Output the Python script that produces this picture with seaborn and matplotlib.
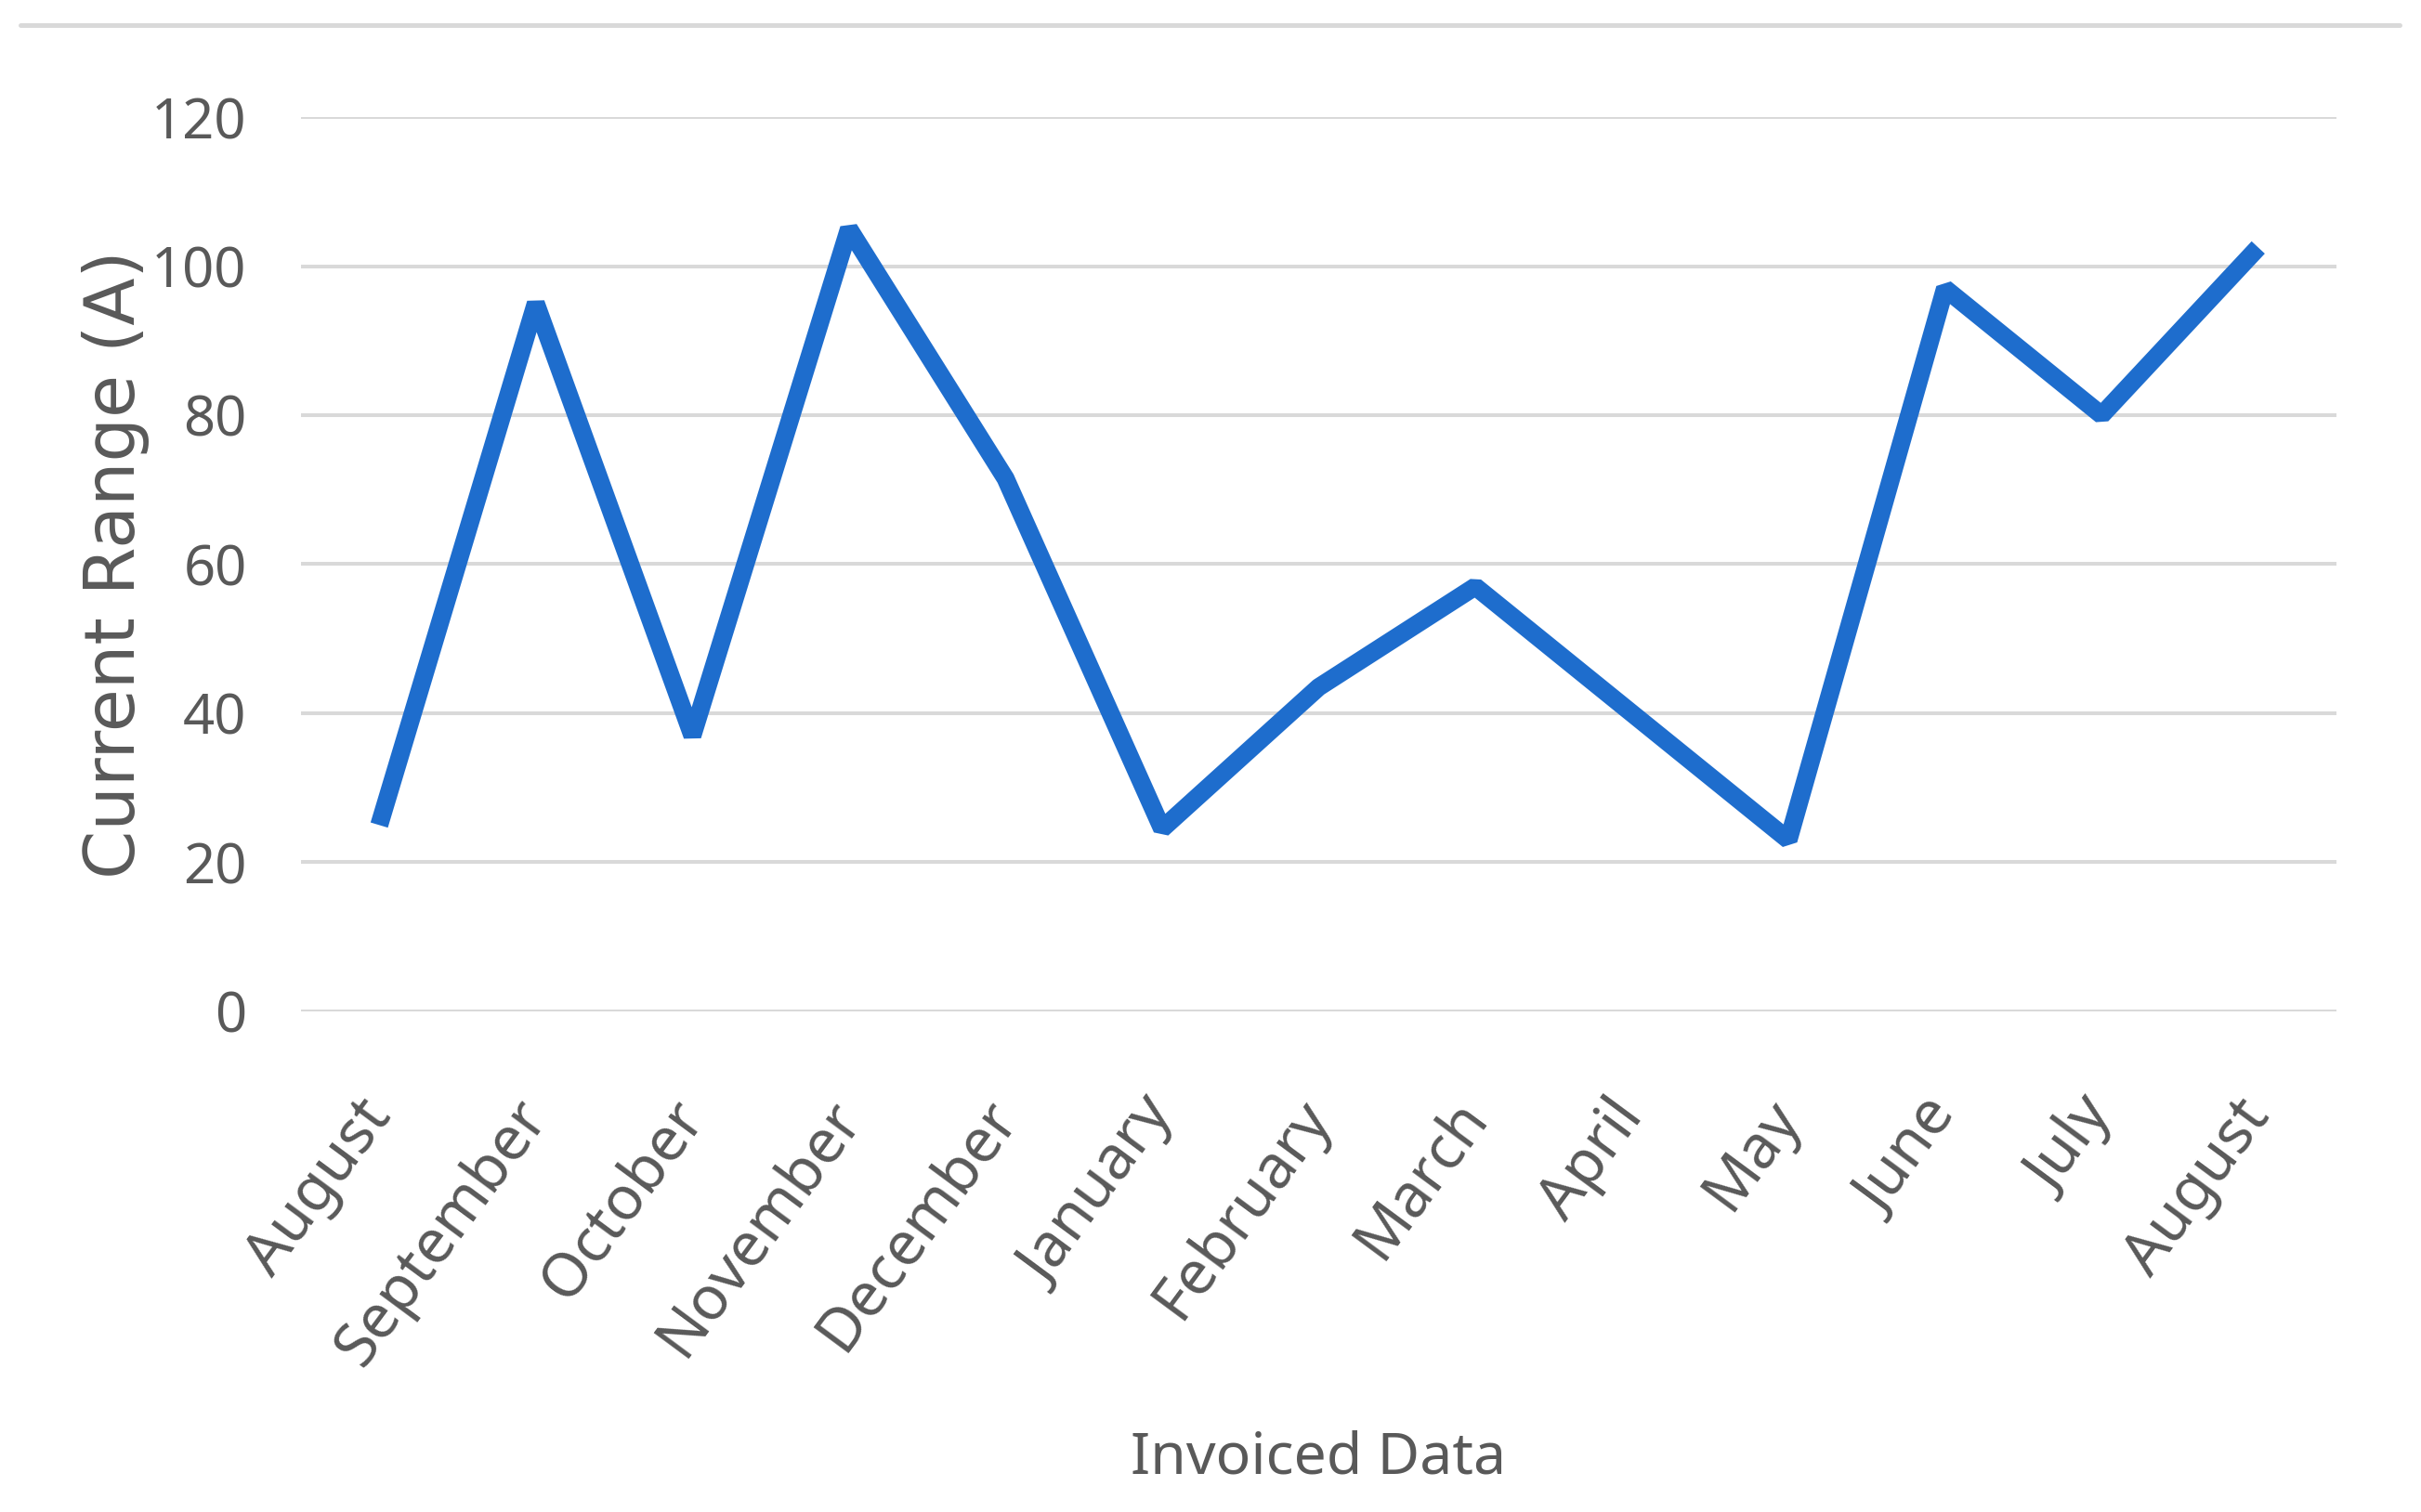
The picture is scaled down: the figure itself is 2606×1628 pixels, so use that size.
import numpy as np
import pandas as pd
import matplotlib.pyplot as plt
import seaborn as sns
from matplotlib.lines import Line2D

# values
months = ["August", "September", "October", "November", "December", "January",
          "February", "March", "April", "May", "June", "July", "August"]
current = [25, 95, 37, 105, 71.5, 24.5, 43.5, 57, 40, 23, 97, 80, 102.5]
y_ticks = [0, 20, 40, 60, 80, 100, 120]

sns.set_theme(style="white")
narrow = dict(family=["Noto Sans", "DejaVu Sans"], fontstretch="extra-condensed")
text_grey = "#595959"
line_blue = "#1e6dcd"

df = pd.DataFrame({"pos": np.arange(len(months)), "month": months, "current": current})

fig = plt.figure(figsize=(26.06, 16.28), dpi=100)
ax = fig.add_axes([0.1243, 0.3311, 0.8408, 0.5915])

sns.lineplot(data=df, x="pos", y="current", ax=ax, color=line_blue,
             linewidth=14, solid_joinstyle="bevel", solid_capstyle="butt")

ax.set_xlim(-0.5, len(months) - 0.5)
ax.set_ylim(0, 120)
ax.set_yticks(y_ticks)
ax.set_yticklabels([str(t) for t in y_ticks], fontsize=43, color=text_grey, **narrow)
ax.set_xticks(df["pos"])
ax.set_xticklabels(months, fontsize=47, color=text_grey,
                   rotation=53.5, ha="right", va="center", rotation_mode="anchor", **narrow)
ax.tick_params(axis="y", length=0, pad=42)
ax.tick_params(axis="x", length=0, pad=74)

ax.yaxis.grid(True, color="#d9d9d9", linewidth=2.9)
ax.xaxis.grid(False)
ax.set_axisbelow(True)
for s in ax.spines.values():
    s.set_visible(False)

ax.set_xlabel("Invoiced Data", fontsize=45, color=text_grey, **narrow)
ax.xaxis.set_label_coords(0.5, -0.5)
ax.xaxis.label.set_va("center")
ax.set_ylabel("Current Range (A)", family="DejaVu Sans", fontsize=54, color=text_grey)
ax.yaxis.set_label_coords(-0.0908, 0.5)
ax.yaxis.label.set_va("center")

# thin grey border along the top of the chart area
fig.add_artist(Line2D([22 / 2606, 2583 / 2606], [0.9834, 0.9834],
                      transform=fig.transFigure, color="#d9d9d9", linewidth=3.6))

fig.savefig("out.png", dpi=100, facecolor="white")
